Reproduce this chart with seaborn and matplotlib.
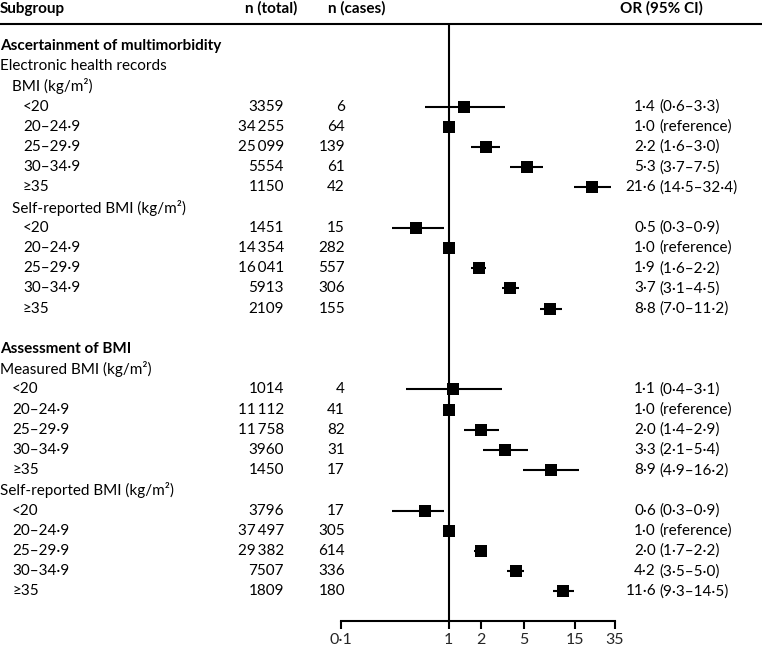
import numpy as np
import pandas as pd
import matplotlib
matplotlib.use("Agg")
import matplotlib.pyplot as plt
import seaborn as sns
from matplotlib.lines import Line2D
from matplotlib.transforms import blended_transform_factory

# ----------------------------
# Data
# ----------------------------
bmi_groups = ["<20", "20\u201324\u00b79", "25\u201329\u00b79", "30\u201334\u00b79", "\u226535"]

section_titles = ["Ascertainment of multimorbidity", "Assessment of BMI"]

ehr_n_total = [3359, 34255, 25099, 5554, 1150]
ehr_n_cases = [6, 64, 139, 61, 42]
ehr_or = [1.4, 1.0, 2.2, 5.3, 21.6]
ehr_lo = [0.6, None, 1.6, 3.7, 14.5]
ehr_hi = [3.3, None, 3.0, 7.5, 32.4]

sr1_n_total = [1451, 14354, 16041, 5913, 2109]
sr1_n_cases = [15, 282, 557, 306, 155]
sr1_or = [0.5, 1.0, 1.9, 3.7, 8.8]
sr1_lo = [0.3, None, 1.6, 3.1, 7.0]
sr1_hi = [0.9, None, 2.2, 4.5, 11.2]

meas_n_total = [1014, 11112, 11758, 3960, 1450]
meas_n_cases = [4, 41, 82, 31, 17]
meas_or = [1.1, 1.0, 2.0, 3.3, 8.9]
meas_lo = [0.4, None, 1.4, 2.1, 4.9]
meas_hi = [3.1, None, 2.9, 5.4, 16.2]

sr2_n_total = [3796, 37497, 29382, 7507, 1809]
sr2_n_cases = [17, 305, 614, 336, 180]
sr2_or = [0.6, 1.0, 2.0, 4.2, 11.6]
sr2_lo = [0.3, None, 1.7, 3.5, 9.3]
sr2_hi = [0.9, None, 2.2, 5.0, 14.5]

x_ticks = [0.1, 1, 2, 5, 15, 35]

# ----------------------------
# Build rows
# ----------------------------
rows = []

def add_label(text, indent, bold=False):
    rows.append(dict(label=text, indent=indent, bold=bold, data=False))

def add_group(n_total, n_cases, ors, los, his, indent):
    for g, nt, nc, o, lo, hi in zip(bmi_groups, n_total, n_cases, ors, los, his):
        rows.append(dict(label=g, indent=indent, bold=False, data=True,
                         n_total=nt, n_cases=nc, OR=o,
                         lo=np.nan if lo is None else lo,
                         hi=np.nan if hi is None else hi))

add_label(section_titles[0], 0, bold=True)
add_label("Electronic health records", 0)
add_label("BMI (kg/m\u00b2)", 12)
add_group(ehr_n_total, ehr_n_cases, ehr_or, ehr_lo, ehr_hi, 23)
add_label("Self-reported BMI (kg/m\u00b2)", 12)
add_group(sr1_n_total, sr1_n_cases, sr1_or, sr1_lo, sr1_hi, 23)
add_label("", 0)
add_label(section_titles[1], 0, bold=True)
add_label("Measured BMI (kg/m\u00b2)", 0)
add_group(meas_n_total, meas_n_cases, meas_or, meas_lo, meas_hi, 12)
add_label("Self-reported BMI (kg/m\u00b2)", 0)
add_group(sr2_n_total, sr2_n_cases, sr2_or, sr2_lo, sr2_hi, 12)

df = pd.DataFrame(rows)
df["y"] = np.arange(len(df))
data = df[df["data"]]


def fmt_n(n):
    s = str(int(n))
    if len(s) >= 5:
        s = s[:-3] + "\u2009" + s[-3:]
    return s


def fmt_v(v):
    return f"{v:.1f}".replace(".", "\u00b7")


# ----------------------------
# Figure
# ----------------------------
W, H = 762, 649
FS = 11
sns.set_theme(style="white")
plt.rcParams["font.family"] = ["Lato", "DejaVu Sans"]

fig = plt.figure(figsize=(W / 100, H / 100), dpi=100)

row0_px = 46
step_px = 20.2
top_px, bot_px = 24, 621
left_px, right_px = 341, 615

ax = fig.add_axes([left_px / W, 1 - bot_px / H, (right_px - left_px) / W, (bot_px - top_px) / H])
ax.set_xscale("log")
ax.set_xlim(0.1, 35)
ax.set_ylim((bot_px - row0_px) / step_px, (top_px - row0_px) / step_px)

ci = data.dropna(subset=["lo"])
ax.hlines(ci["y"], ci["lo"], ci["hi"], color="black", lw=1.5, zorder=2)
sns.scatterplot(data=data, x="OR", y="y", marker="s", s=75, color="black",
                linewidth=0, legend=False, ax=ax, zorder=3)
ax.axvline(1, color="black", lw=1.5, zorder=1)

for s in ["top", "left", "right"]:
    ax.spines[s].set_visible(False)
ax.spines["bottom"].set_color("black")
ax.spines["bottom"].set_linewidth(1.5)
ax.set_xticks(x_ticks)
ax.set_xticklabels([str(t).replace(".", "\u00b7") for t in x_ticks])
ax.minorticks_off()
ax.tick_params(axis="x", which="major", direction="out", length=6, width=1.5,
               color="black", labelsize=11.5, pad=3, bottom=True)
ax.set_yticks([])
ax.set_xlabel("")
ax.set_ylabel("")
ax.grid(False)

# ----------------------------
# Text columns
# ----------------------------
tr = blended_transform_factory(fig.transFigure, ax.transData)

def put(xpx, y, text, ha="left", bold=False):
    ax.text(xpx / W, y, text, transform=tr, ha=ha, va="center", fontsize=FS,
            fontweight="bold" if bold else "normal", color="black", clip_on=False)

head_y = (8.5 - row0_px) / step_px
put(0, head_y, "Subgroup", bold=True)
put(297, head_y, "n (total)", ha="right", bold=True)
put(328, head_y, "n (cases)", bold=True)
put(620, head_y, "OR (95% CI)", bold=True)

for _, r in df.iterrows():
    if r["label"]:
        put(r["indent"], r["y"], r["label"], bold=r["bold"])
    if r["data"]:
        put(284, r["y"], fmt_n(r["n_total"]), ha="right")
        put(345, r["y"], str(int(r["n_cases"])), ha="right")
        put(656, r["y"], fmt_v(r["OR"]), ha="right")
        if np.isnan(r["lo"]):
            put(659, r["y"], "(reference)")
        else:
            put(659, r["y"], f"({fmt_v(r['lo'])}\u2013{fmt_v(r['hi'])})")

fig.add_artist(Line2D([0, 1], [1 - top_px / H] * 2, transform=fig.transFigure,
                      color="black", lw=1.5))

fig.savefig("out.png", dpi=100)
